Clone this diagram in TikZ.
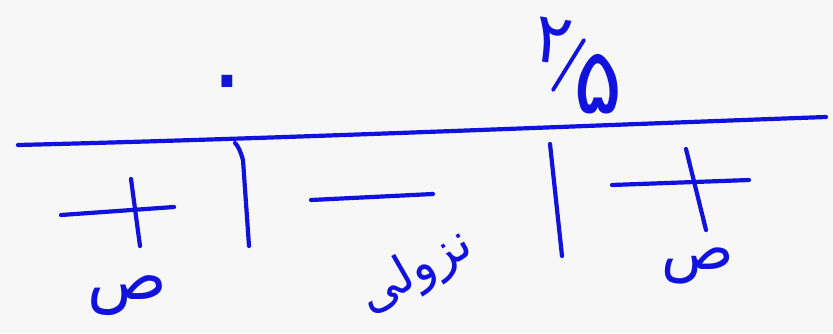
\documentclass[tikz,border=0pt]{standalone}
\usepackage{fontspec}
\newfontfamily\arabicfont[Script=Arabic]{DejaVu Sans}
\TeXXeTstate=1
\definecolor{ink}{RGB}{18,18,222}
\definecolor{paper}{RGB}{247,247,247}
\tikzset{
  pen/.style={draw=ink, line width=4.2pt, line cap=round, line join=round},
  hand/.style={text=ink, inner sep=0pt, font=\arabicfont}
}
\begin{document}
\begin{tikzpicture}[x=1pt,y=-1pt]
  \fill[paper] (0,0) rectangle (833,333);
  \useasboundingbox (0,0) rectangle (833,333);
  % main axis
  \draw[pen] (18,145) .. controls (300,138) and (600,125) .. (826,117);
  % dividers
  \draw[pen] (235,143) .. controls (238,146) and (240,150) .. (243,160) -- (249,246);
  \draw[pen] (550,144) -- (562,256);
  % signs
  \draw[pen] (61,215) -- (174,207);
  \draw[pen] (131,179) -- (140,246);
  \draw[pen] (311,200) -- (433,194);
  \draw[pen] (612,185) -- (749,180);
  \draw[pen] (686,149) -- (706,230);
  % labels above
  \node[hand, font=\arabicfont\fontsize{100}{100}\selectfont] (zero) at (227,92) {۰};
  \node[hand, font=\arabicfont\fontsize{70}{70}\selectfont, rotate=-8] (two) at (553,41) {۲};
  \draw[pen, line width=3.8pt] (584,40) -- (553,90);
  \node[hand, font=\arabicfont\fontsize{92}{92}\selectfont] (five) at (598,84) {۵};
  % labels below
  \node[hand, font=\arabicfont\fontsize{66}{66}\selectfont] (sadL) at (127,296) {ص};
  \node[hand, font=\arabicfont\fontsize{50}{50}\selectfont, rotate=30] (nozuli) at (416,272) {\beginR نزولی\endR};
  \node[hand, font=\arabicfont\fontsize{60}{60}\selectfont] (sadR) at (698,266) {ص};
\end{tikzpicture}
\end{document}
